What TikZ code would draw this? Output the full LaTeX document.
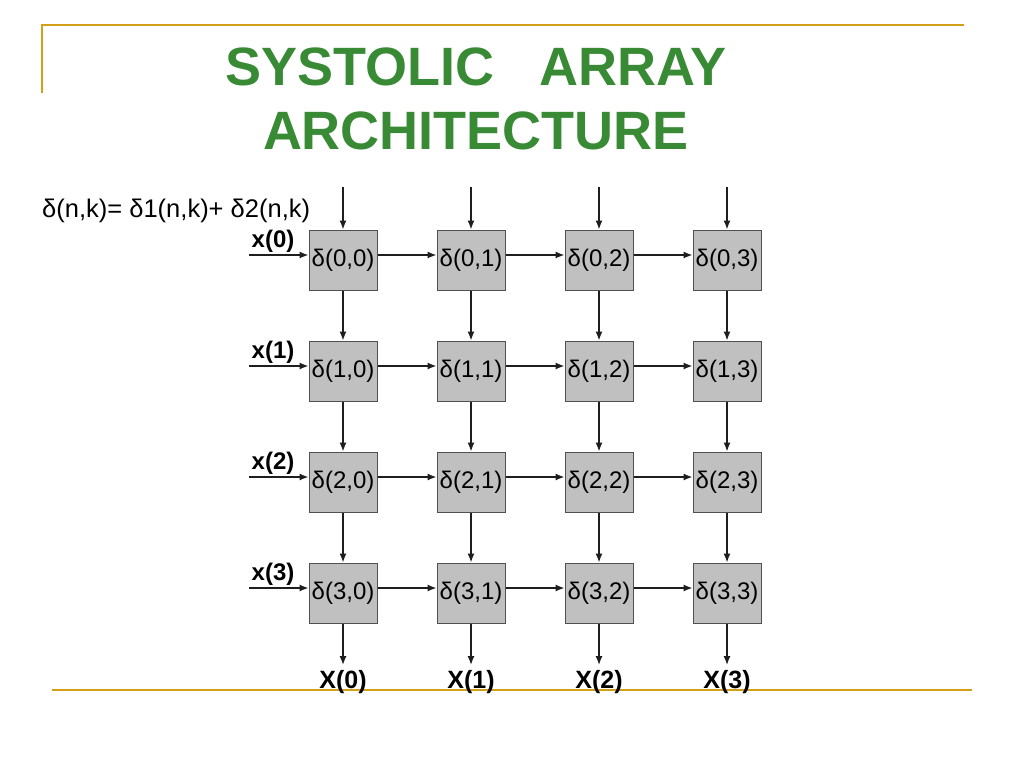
\documentclass[tikz,border=0pt]{standalone}
\usepackage{fontspec}
\setmainfont{Liberation Sans}
\usetikzlibrary{arrows.meta}
\definecolor{gold}{RGB}{212,160,23}
\definecolor{titlegreen}{RGB}{56,138,52}
\definecolor{cellfill}{RGB}{192,192,192}
\definecolor{cellborder}{RGB}{80,80,80}
\definecolor{wire}{RGB}{30,30,30}
\begin{document}
\begin{tikzpicture}[x=1pt,y=-1pt,
  cell/.style={draw=cellborder,fill=cellfill,line width=1pt,minimum width=68pt,minimum height=60pt,inner sep=0pt,font=\fontsize{24}{27}\selectfont},
  wirearrow/.style={draw=wire,line width=1.3pt,-{Latex[length=9pt,width=7pt]}},
  inlabel/.style={font=\fontsize{24}{27}\selectfont\bfseries,inner sep=0pt},
  outlabel/.style={font=\fontsize{25}{28}\selectfont\bfseries,inner sep=0pt},
  goldline/.style={draw=gold,line width=2.4pt}]
\useasboundingbox (0,0) rectangle (1024,768);
% frame lines
\coordinate (tl) at (42,93);
\coordinate (tc) at (42,25);
\coordinate (tr) at (964,25);
\coordinate (bl) at (52,690);
\coordinate (br) at (972,690);
\draw[goldline] (tl) -- (tc) -- (tr);
\draw[goldline] (bl) -- (br);
% title
\node[text=titlegreen,font=\fontsize{54}{64}\selectfont\bfseries,align=center,inner sep=0pt] (title) at (476,99)
  {SYSTOLIC\ \ \ ARRAY\\ARCHITECTURE};
% formula
\node[anchor=west,font=\fontsize{25.5}{29}\selectfont,inner sep=0pt] (formula) at (42,211) {δ(n,k)= δ1(n,k)+ δ2(n,k)};
% cells
\foreach \r/\y in {0/260,1/371,2/482,3/593}{
  \foreach \c/\x in {0/343,1/471,2/599,3/727}{
    \node[cell] (c\r\c) at (\x,\y) {δ(\r,\c)};
  }
}
% top inputs and bottom outputs
\foreach \c/\x in {0/343,1/471,2/599,3/727}{
  \coordinate (top\c) at (\x,187);
  \draw[wirearrow] (top\c) -- (c0\c.north);
  \coordinate (bot\c) at (\x,665);
  \draw[wirearrow] (c3\c.south) -- (bot\c);
  \node[outlabel] (X\c) at (\x,682) {X(\c)};
}
% vertical connections
\foreach \c in {0,1,2,3}{
  \draw[wirearrow] (c0\c.south) -- (c1\c.north);
  \draw[wirearrow] (c1\c.south) -- (c2\c.north);
  \draw[wirearrow] (c2\c.south) -- (c3\c.north);
}
% row inputs and horizontal connections
\foreach \r/\y in {0/260,1/371,2/482,3/593}{
  \coordinate (in\r) at (249,\y-5);
  \draw[wirearrow] (in\r) -- ([yshift=5pt]c\r0.west);
  \node[inlabel] (xl\r) at (273,\y-19) {x(\r)};
  \draw[wirearrow] ([yshift=5pt]c\r0.east) -- ([yshift=5pt]c\r1.west);
  \draw[wirearrow] ([yshift=5pt]c\r1.east) -- ([yshift=5pt]c\r2.west);
  \draw[wirearrow] ([yshift=5pt]c\r2.east) -- ([yshift=5pt]c\r3.west);
}
\end{tikzpicture}
\end{document}
